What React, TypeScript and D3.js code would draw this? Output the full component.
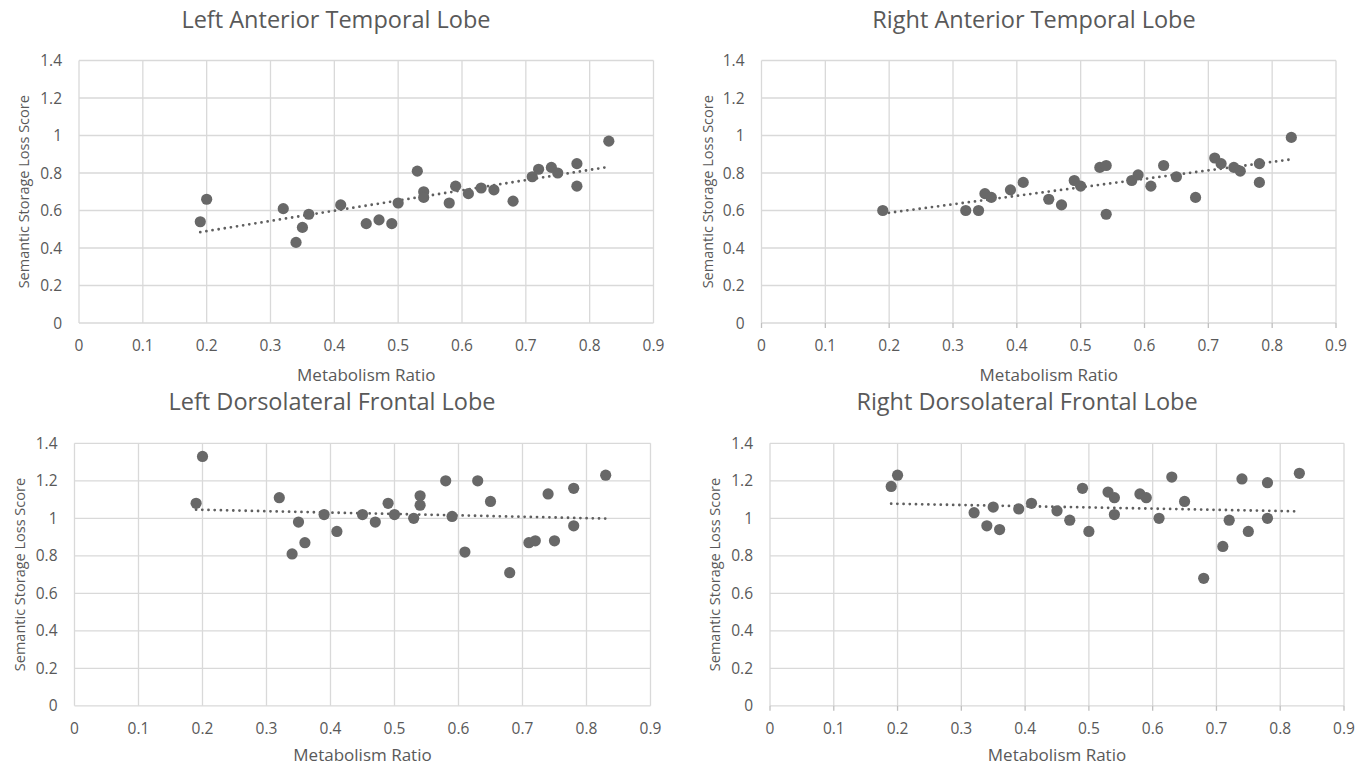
import React, { useRef, useEffect } from "react";
import * as d3 from "d3";

const xTicks = [0, 0.1, 0.2, 0.3, 0.4, 0.5, 0.6, 0.7, 0.8, 0.9];
const yTicks = [0, 0.2, 0.4, 0.6, 0.8, 1, 1.2, 1.4];

// Left anterior temporal lobe
const latX = [0.19, 0.2, 0.32, 0.34, 0.35, 0.36, 0.41, 0.45, 0.47, 0.49, 0.5, 0.53, 0.54, 0.54, 0.58, 0.59, 0.61, 0.63, 0.65, 0.68, 0.71, 0.72, 0.74, 0.75, 0.78, 0.78, 0.83];
const latY = [0.54, 0.66, 0.61, 0.43, 0.51, 0.58, 0.63, 0.53, 0.55, 0.53, 0.64, 0.81, 0.7, 0.67, 0.64, 0.73, 0.69, 0.72, 0.71, 0.65, 0.78, 0.82, 0.83, 0.8, 0.85, 0.73, 0.97];

// Right anterior temporal lobe
const ratX = [0.19, 0.32, 0.34, 0.35, 0.36, 0.39, 0.41, 0.45, 0.47, 0.49, 0.5, 0.53, 0.54, 0.54, 0.58, 0.59, 0.61, 0.63, 0.65, 0.68, 0.71, 0.72, 0.74, 0.75, 0.78, 0.78, 0.83];
const ratY = [0.6, 0.6, 0.6, 0.69, 0.67, 0.71, 0.75, 0.66, 0.63, 0.76, 0.73, 0.83, 0.84, 0.58, 0.76, 0.79, 0.73, 0.84, 0.78, 0.67, 0.88, 0.85, 0.83, 0.81, 0.85, 0.75, 0.99];

// Left dorsolateral frontal lobe
const ldfX = [0.19, 0.2, 0.32, 0.34, 0.35, 0.36, 0.39, 0.41, 0.45, 0.47, 0.49, 0.5, 0.53, 0.54, 0.54, 0.58, 0.59, 0.61, 0.63, 0.65, 0.68, 0.71, 0.72, 0.74, 0.75, 0.78, 0.78, 0.83];
const ldfY = [1.08, 1.33, 1.11, 0.81, 0.98, 0.87, 1.02, 0.93, 1.02, 0.98, 1.08, 1.02, 1.0, 1.12, 1.07, 1.2, 1.01, 0.82, 1.2, 1.09, 0.71, 0.87, 0.88, 1.13, 0.88, 1.16, 0.96, 1.23];

// Right dorsolateral frontal lobe
const rdfX = [0.19, 0.2, 0.32, 0.34, 0.35, 0.36, 0.39, 0.41, 0.45, 0.47, 0.49, 0.5, 0.53, 0.54, 0.54, 0.58, 0.59, 0.61, 0.63, 0.65, 0.68, 0.71, 0.72, 0.74, 0.75, 0.78, 0.78, 0.83];
const rdfY = [1.17, 1.23, 1.03, 0.96, 1.06, 0.94, 1.05, 1.08, 1.04, 0.99, 1.16, 0.93, 1.14, 1.11, 1.02, 1.13, 1.11, 1.0, 1.22, 1.09, 0.68, 0.85, 0.99, 1.21, 0.93, 1.19, 1.0, 1.24];

const panels = [
  { title: "Left Anterior Temporal Lobe", xs: latX, ys: latY, x0: 79, x1: 653.5, y0: 323, y1: 60.5, titleX: 336, yTitleX: 24, ticks: false },
  { title: "Right Anterior Temporal Lobe", xs: ratX, ys: ratY, x0: 761.5, x1: 1336, y0: 323, y1: 60.5, titleX: 1034, yTitleX: 708, ticks: true },
  { title: "Left Dorsolateral Frontal Lobe", xs: ldfX, ys: ldfY, x0: 74.5, x1: 650.5, y0: 705.8, y1: 443.3, titleX: 332, yTitleX: 20, ticks: false },
  { title: "Right Dorsolateral Frontal Lobe", xs: rdfX, ys: rdfY, x0: 770, x1: 1344, y0: 705.8, y1: 443.3, titleX: 1027, yTitleX: 715, ticks: true },
];

const font = "'Open Sans', Lato, sans-serif";
const textColor = "#595959";

function fitLine(xs, ys) {
  const mx = d3.mean(xs);
  const my = d3.mean(ys);
  let num = 0;
  let den = 0;
  xs.forEach((x, i) => {
    num += (x - mx) * (ys[i] - my);
    den += (x - mx) * (x - mx);
  });
  const slope = num / den;
  return (x) => my + slope * (x - mx);
}

const App = () => {
  const svgRef = useRef(null);

  useEffect(() => {
    const svg = d3.select(svgRef.current);
    svg.selectAll("*").remove();

    panels.forEach((p) => {
      const x = d3.scaleLinear().domain([0, 0.9]).range([p.x0, p.x1]);
      const y = d3.scaleLinear().domain([0, 1.4]).range([p.y0, p.y1]);
      const g = svg.append("g");

      // gridlines
      g.selectAll(".vgrid")
        .data(xTicks)
        .enter()
        .append("line")
        .attr("x1", (d) => x(d))
        .attr("x2", (d) => x(d))
        .attr("y1", y(0))
        .attr("y2", y(1.4))
        .attr("stroke", "#d9d9d9")
        .attr("stroke-width", 1.3);

      g.selectAll(".hgrid")
        .data(yTicks)
        .enter()
        .append("line")
        .attr("x1", x(0))
        .attr("x2", x(0.9))
        .attr("y1", (d) => y(d))
        .attr("y2", (d) => y(d))
        .attr("stroke", "#d9d9d9")
        .attr("stroke-width", 1.3);

      if (p.ticks) {
        g.selectAll(".tick")
          .data(xTicks)
          .enter()
          .append("line")
          .attr("x1", (d) => x(d))
          .attr("x2", (d) => x(d))
          .attr("y1", y(0))
          .attr("y2", y(0) + 5)
          .attr("stroke", "#bfbfbf")
          .attr("stroke-width", 1.3);
      }

      // tick labels
      g.selectAll(".xlab")
        .data(xTicks)
        .enter()
        .append("text")
        .attr("x", (d) => x(d))
        .attr("y", y(0) + 28)
        .attr("text-anchor", "middle")
        .attr("font-family", font)
        .attr("font-size", 15.5)
        .attr("fill", textColor)
        .text((d) => d3.format("~g")(d));

      g.selectAll(".ylab")
        .data(yTicks)
        .enter()
        .append("text")
        .attr("x", x(0) - 17)
        .attr("y", (d) => y(d) + 5.5)
        .attr("text-anchor", "end")
        .attr("font-family", font)
        .attr("font-size", 15.5)
        .attr("fill", textColor)
        .text((d) => d3.format("~g")(d));

      // trendline
      const f = fitLine(p.xs, p.ys);
      const ext = d3.extent(p.xs);
      g.append("path")
        .attr("d", d3.line()([[x(ext[0]), y(f(ext[0]))], [x(ext[1]), y(f(ext[1]))]]))
        .attr("stroke", "#5f5f5f")
        .attr("stroke-width", 2.8)
        .attr("stroke-linecap", "round")
        .attr("stroke-dasharray", "0 6.2")
        .attr("fill", "none");

      // points
      g.selectAll(".pt")
        .data(p.xs.map((v, i) => [v, p.ys[i]]))
        .enter()
        .append("circle")
        .attr("cx", (d) => x(d[0]))
        .attr("cy", (d) => y(d[1]))
        .attr("r", 5.6)
        .attr("fill", "#686868");

      // titles
      g.append("text")
        .attr("x", p.titleX)
        .attr("y", p.y1 - 33)
        .attr("text-anchor", "middle")
        .attr("font-family", font)
        .attr("font-size", 23.5)
        .attr("fill", textColor)
        .text(p.title);

      g.append("text")
        .attr("x", (p.x0 + p.x1) / 2)
        .attr("y", Math.min(y(0) + 58, 761))
        .attr("text-anchor", "middle")
        .attr("font-family", font)
        .attr("font-size", 17)
        .attr("fill", textColor)
        .text("Metabolism Ratio");

      g.append("text")
        .attr("transform", `translate(${p.yTitleX + 5},${(p.y0 + p.y1) / 2}) rotate(-90)`)
        .attr("text-anchor", "middle")
        .attr("font-family", font)
        .attr("font-size", 14.5)
        .attr("fill", textColor)
        .text("Semantic Storage Loss Score");
    });
  }, []);

  return (
    <svg
      ref={svgRef}
      width={1369}
      height={767}
      style={{ position: "absolute", left: 0, top: 0, background: "#fff" }}
    />
  );
};

export default App;
